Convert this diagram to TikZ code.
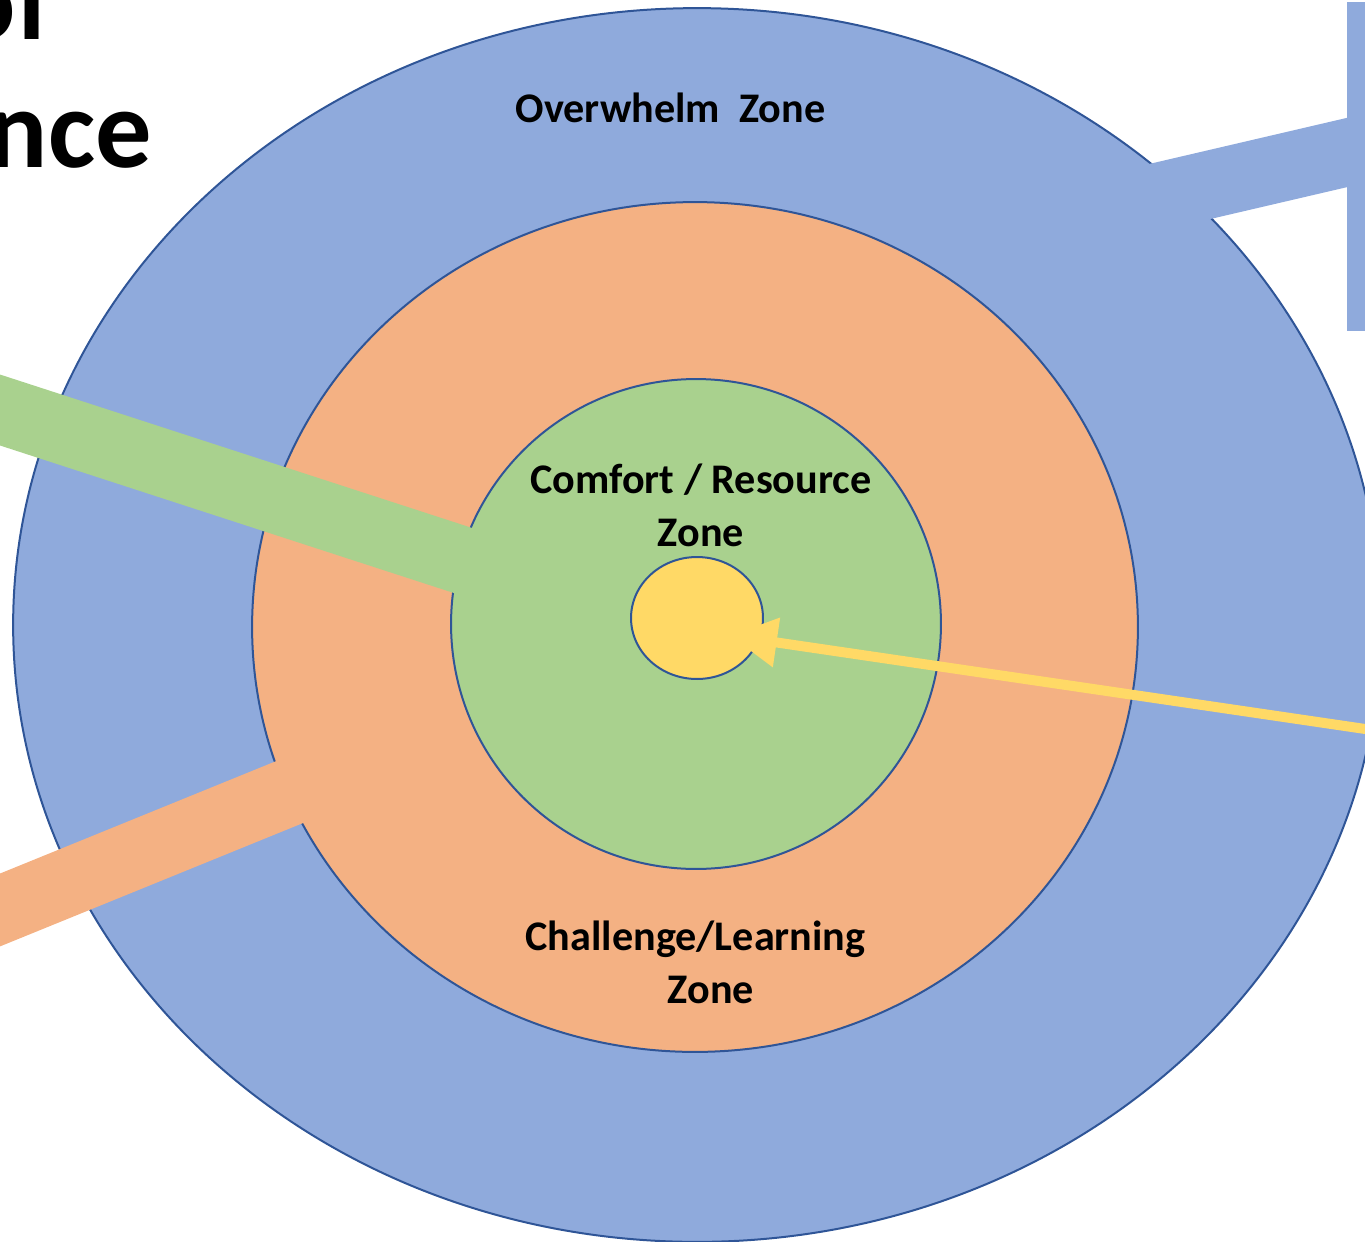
\documentclass[tikz,border=0pt]{standalone}
\usepackage{fontspec}
\setmainfont{Carlito}
\usetikzlibrary{shapes}
\usetikzlibrary{arrows.meta}
\definecolor{zoneblue}{HTML}{8FAADC}
\definecolor{zoneorange}{HTML}{F4B183}
\definecolor{zonegreen}{HTML}{A9D18E}
\definecolor{zoneyellow}{HTML}{FFD966}
\definecolor{zoneline}{HTML}{2F5597}
\tikzset{
	zone/.style = {
		ellipse,
		inner sep=0pt,
		outer sep=0pt,
		draw=zoneline,
		line width=0.04cm
	},
	zone_outer/.style = {
		zone,
		fill=zoneblue,
		minimum width=27.36cm,
		minimum height=24.68cm
	},
	zone_mid/.style = {
		zone,
		fill=zoneorange,
		minimum width=17.72cm,
		minimum height=17cm
	},
	zone_inner/.style = {
		zone,
		fill=zonegreen,
		minimum width=9.8cm,
		minimum height=9.8cm
	},
	zone_core/.style = {
		zone,
		fill=zoneyellow,
		minimum width=2.64cm,
		minimum height=2.44cm
	},
	zone_label/.style = {
		align=center,
		inner sep=0pt,
		anchor=base,
		font=\bfseries\fontsize{24pt}{30pt}\selectfont
	},
	title_part/.style = {
		inner sep=0pt,
		anchor=base east,
		font=\bfseries\fontsize{64pt}{74pt}\selectfont
	},
	band/.style = {
		line width=1.35cm
	},
	pointer/.style = {
		draw=zoneyellow,
		line width=0.2cm,
		-{Triangle[length=0.94cm, width=0.95cm]}
	}
}

\begin{document}
\begin{tikzpicture}[x=0.02cm, y=-0.02cm]
\useasboundingbox (0,0) rectangle (1365,1241);
\clip (0,0) rectangle (1365,1241);

\coordinate (bluefoot) at (1380,144.8);
\coordinate (bluetip) at (1000,233.4);
\coordinate (orangefoot) at (-60,934.4);
\coordinate (greenfoot) at (-60,390.5);
\coordinate (greentip) at (620,611.5);
\coordinate (yellowfoot) at (1400,734.1);
\coordinate (yellowtip) at (730,635.6);

\node [zone_outer] (overwhelm) at (697,625) {};
\draw [band, zoneblue] (bluefoot) -- (bluetip);
\node [rectangle, fill=zoneblue, inner sep=0pt, anchor=north west,
	minimum width=1cm, minimum height=6.58cm] (overwhelmbox) at (1347,2) {};

\node [zone_mid] (challenge) at (695,627) {};
\draw [band, zoneorange] (orangefoot) -- (challenge.center);

\node [zone_inner] (comfort) at (696,624) {};
\draw [band, zonegreen] (greenfoot) -- (greentip);

\node [zone_core] (core) at (697,618) {};

\node [zone_label] (overwhelm_text) at (670.5,122) {Overwhelm\ \ Zone};
\node [zone_label] (comfort_text) at (701,546) {Comfort / Resource\\Zone};
\node [zone_label] (challenge_text) at (695.5,1003) {Challenge/Learning\\\hspace*{0.62cm}Zone};

\draw [pointer] (yellowfoot) -- (yellowtip);

\node [title_part] (title_of) at (52,39) {of};
\node [title_part] (title_nce) at (152,167) {nce};
\end{tikzpicture}
\end{document}
